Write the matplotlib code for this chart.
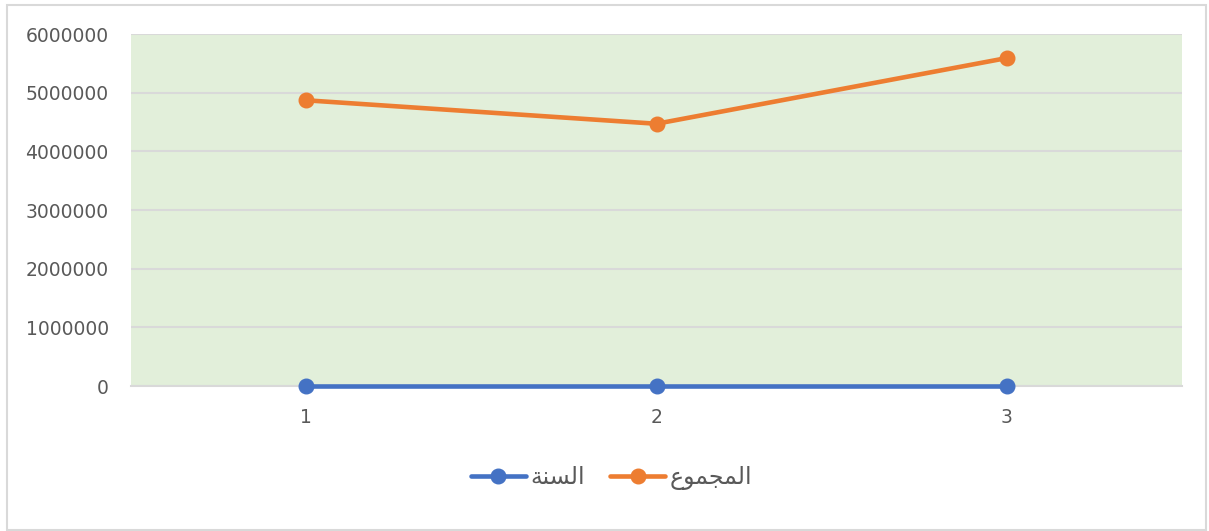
import matplotlib
matplotlib.use("Agg")
import matplotlib.pyplot as plt
from matplotlib.patches import Rectangle

# ---- data ----
categories = [1, 2, 3]
year_values = [2018, 2019, 2020]            # السنة
total_values = [4870000, 4470000, 5590000]  # المجموع
series_labels = ["السنة", "المجموع"]
y_ticks = [0, 1000000, 2000000, 3000000, 4000000, 5000000, 6000000]

# ---- minimal Arabic shaping (presentation forms, visual order) ----
_FORMS = {  # iso, fin, init, med
    "ا": ("\uFE8D", "\uFE8E", None, None),
    "ل": ("\uFEDD", "\uFEDE", "\uFEDF", "\uFEE0"),
    "س": ("\uFEB1", "\uFEB2", "\uFEB3", "\uFEB4"),
    "ن": ("\uFEE5", "\uFEE6", "\uFEE7", "\uFEE8"),
    "ة": ("\uFE93", "\uFE94", None, None),
    "م": ("\uFEE1", "\uFEE2", "\uFEE3", "\uFEE4"),
    "ج": ("\uFE9D", "\uFE9E", "\uFE9F", "\uFEA0"),
    "و": ("\uFEED", "\uFEEE", None, None),
    "ع": ("\uFEC9", "\uFECA", "\uFECB", "\uFECC"),
}


def shape(text):
    out = []
    n = len(text)
    for i, ch in enumerate(text):
        f = _FORMS.get(ch)
        if f is None:
            out.append(ch)
            continue
        prev = _FORMS.get(text[i - 1]) if i > 0 else None
        nxt = _FORMS.get(text[i + 1]) if i < n - 1 else None
        jp = prev is not None and prev[2] is not None
        jn = nxt is not None and f[2] is not None
        if jp and jn:
            out.append(f[3])
        elif jp:
            out.append(f[1])
        elif jn:
            out.append(f[2])
        else:
            out.append(f[0])
    return "".join(reversed(out))


# ---- figure ----
W, H, DPI = 1209, 531, 100
fig = plt.figure(figsize=(W / DPI, H / DPI), dpi=DPI)
fig.patch.set_facecolor("white")
fig.patches.append(Rectangle((7 / W, 1 - 530 / H), (1206 - 7) / W, (530 - 5) / H,
                             transform=fig.transFigure, fill=False,
                             edgecolor="#D9D9D9", linewidth=1.5))

ax = fig.add_axes([131 / W, 1 - 386 / H, (1182 - 131) / W, (386 - 34) / H])
ax.set_facecolor("#E2EFDA")

blue = "#4472C4"
orange = "#ED7D31"
ax.plot(categories, year_values, color=blue, lw=3.3, marker="o", ms=10.5,
        solid_capstyle="round", label=shape(series_labels[0]), zorder=4,
        clip_on=False)
ax.plot(categories, total_values, color=orange, lw=3.3, marker="o", ms=10.5,
        solid_capstyle="round", label=shape(series_labels[1]), zorder=4,
        clip_on=False)

ax.set_xlim(0.5, 3.5)
ax.set_ylim(0, 6000000)
ax.set_yticks(y_ticks)
ax.set_yticklabels([str(v) for v in y_ticks])
ax.set_xticks(categories)
ax.set_xticklabels([str(c) for c in categories])
ax.grid(axis="y", color="#D9D9D9", lw=1.5, zorder=1)
ax.set_axisbelow(True)
for s in ["top", "right", "left"]:
    ax.spines[s].set_visible(False)
ax.spines["bottom"].set_color("#D9D9D9")
ax.spines["bottom"].set_linewidth(1.5)
ax.tick_params(axis="both", length=0, labelsize=13.5, labelcolor="#595959")
ax.tick_params(axis="y", pad=16)
ax.tick_params(axis="x", pad=16)

leg = fig.legend(loc="center", bbox_to_anchor=(611.5 / W, 1 - 478 / H), ncol=2,
                 frameon=False, fontsize=17, handlelength=2.35,
                 columnspacing=1.05, handletextpad=0.18)
for t in leg.get_texts():
    t.set_color("#595959")
    t.set_family("DejaVu Sans")

fig.savefig("out.png", dpi=DPI)
